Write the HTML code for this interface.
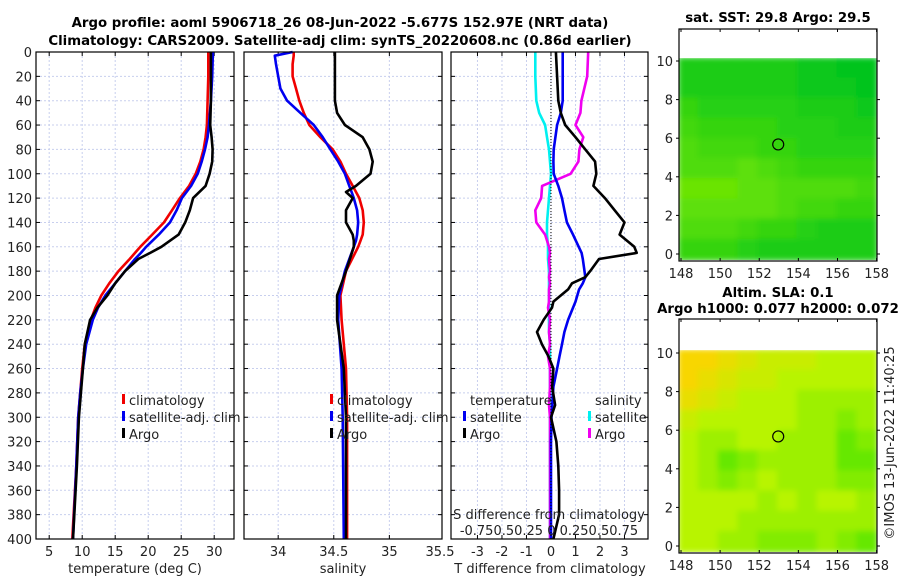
<!DOCTYPE html>
<html><head><meta charset="utf-8">
<style>
html,body{margin:0;padding:0;background:#fff;}
svg{display:block;font-family:"DejaVu Sans","Liberation Sans",sans-serif;}
.t{font-size:13px;fill:#222;}
.b{font-size:13.3px;font-weight:bold;fill:#000;}
</style></head>
<body>
<svg id="fig" width="900" height="580" viewBox="0 0 900 580">
<text class="b" x="340" y="27" text-anchor="middle">Argo profile: aoml 5906718_26 08-Jun-2022 -5.677S 152.97E (NRT data)</text>
<text class="b" x="340" y="45" text-anchor="middle">Climatology: CARS2009. Satellite-adj clim: synTS_20220608.nc (0.86d earlier)</text>
<text class="b" x="778" y="22" text-anchor="middle">sat. SST: 29.8 Argo: 29.5</text>
<text class="b" x="778" y="297" text-anchor="middle">Altim. SLA: 0.1</text>
<text class="b" x="778" y="313" text-anchor="middle">Argo h1000: 0.077 h2000: 0.072</text>
<text class="t" transform="translate(894,443) rotate(-90)" text-anchor="middle">©IMOS 13-Jun-2022 11:40:25</text>
<g id="plots"></g>
</svg>
<script>
// ---- data ----
const depthTicks=[0,20,40,60,80,100,120,140,160,180,200,220,240,260,280,300,320,340,360,380,400];
const tempTicks=[5,10,15,20,25,30];
const salTicks=[34,34.5,35];
const dTicks=[-3,-2,-1,0,1,2,3];
const tempDepth=[0,20,40,60,70,80,90,100,110,120,130,140,150,160,165,170,180,190,200,210,220,240,260,280,300,340,400];
const tempClim =[29.1,29.1,29.0,28.9,28.7,28.4,27.9,27.2,26.2,24.8,23.6,22.4,20.6,18.8,18.0,17.2,15.5,14.1,12.9,12.0,11.3,10.4,10.0,9.7,9.4,9.1,8.5];
const tempSat  =[29.8,29.7,29.5,29.2,29.0,28.6,28.1,27.5,26.5,25.1,24.3,23.3,21.6,19.7,18.9,18.0,16.5,15.0,13.5,12.4,11.6,10.6,10.1,9.7,9.4,9.1,8.6];
const tempArgo =[29.5,29.5,29.5,29.4,29.6,29.75,29.7,29.3,28.7,26.8,26.3,25.6,24.6,22.0,20.3,18.5,16.5,15.0,13.8,12.3,11.2,10.4,10.1,9.8,9.5,9.2,8.6];
const salDepth=[0,3,10,20,30,40,50,60,70,80,90,100,110,115,120,130,140,150,155,160,180,200,220,260,300,400];
const salClim=[34.14,34.14,34.13,34.13,34.16,34.19,34.23,34.28,34.38,34.49,34.56,34.61,34.67,34.70,34.73,34.76,34.77,34.76,34.74,34.72,34.61,34.56,34.57,34.61,34.62,34.62];
const salSat =[34.13,33.97,33.98,34.00,34.02,34.08,34.20,34.32,34.40,34.47,34.54,34.60,34.64,34.66,34.68,34.71,34.72,34.71,34.70,34.68,34.60,34.55,34.54,34.57,34.58,34.59];
const salArgo=[34.51,34.51,34.51,34.51,34.51,34.51,34.53,34.60,34.76,34.82,34.85,34.83,34.70,34.61,34.67,34.61,34.61,34.67,34.68,34.68,34.61,34.53,34.53,34.59,34.61,34.61];
const difDepth=[0,20,40,50,60,70,80,90,100,110,120,130,140,150,160,165,170,180,185,190,195,205,210,220,230,240,250,260,275,290,300,320,340,360,380,400];
const difTSat =[0.48,0.48,0.48,0.40,0.25,0.18,0.11,0.10,0.11,0.30,0.45,0.55,0.65,0.90,1.13,1.25,1.30,1.37,1.40,1.30,1.15,1.00,0.90,0.70,0.55,0.45,0.35,0.25,0.10,0.05,0.02,0.0,0.0,0.0,0.0,0.0];
const difTArgo=[0.20,0.25,0.30,0.40,0.58,1.00,1.40,1.80,1.85,1.73,2.20,2.60,3.00,2.80,3.40,3.50,1.96,1.60,1.40,0.86,0.70,0.10,0.04,-0.30,-0.57,-0.37,-0.10,0.10,0.05,0.17,0.0,0.22,0.30,0.33,0.33,0.10];
const difSSat =[-0.16,-0.16,-0.15,-0.12,-0.06,-0.04,-0.02,-0.01,0.0,-0.01,-0.02,-0.03,-0.04,-0.04,-0.03,-0.03,-0.03,-0.02,-0.02,-0.02,-0.02,-0.02,-0.02,-0.02,-0.02,-0.01,-0.01,-0.01,-0.01,-0.01,-0.01,-0.01,-0.01,-0.01,-0.01,-0.01];
const difSArgo=[0.38,0.37,0.31,0.30,0.25,0.33,0.29,0.28,0.20,-0.09,-0.10,-0.16,-0.15,-0.06,-0.02,-0.01,-0.02,-0.01,-0.02,-0.01,-0.02,-0.02,-0.03,-0.01,-0.02,-0.01,-0.03,-0.01,-0.01,-0.02,-0.01,-0.01,-0.01,-0.01,-0.01,-0.01];
const lonTicks=[148,150,152,154,156,158];
const latTicks=[0,2,4,6,8,10];
const sstGrid=[
[2,2,2,2,2,2,1,1,0,0],
[2,2,2,2,2,2,1,1,1,0],
[4,3,3,3,3,3,2,2,2,1],
[5,4,4,4,4,3,3,3,2,2],
[6,5,5,5,4,4,3,3,3,3],
[6,6,6,7,6,5,4,4,4,4],
[8,8,8,7,7,6,6,6,6,5],
[7,7,7,7,7,6,5,5,4,4],
[6,6,6,5,4,4,3,2,2,2],
[4,4,4,3,2,2,2,2,2,2]];
const slaGrid=[
[9,9,8,7,6,6,6,5,5,5],
[9,8,7,6,6,5,5,5,5,5],
[8,7,6,5,5,5,4,4,4,4],
[6,5,5,5,5,5,4,4,3,4],
[5,4,4,5,5,4,4,4,2,3],
[5,4,2,3,4,4,4,4,2,2],
[5,4,3,4,5,4,4,4,3,3],
[5,5,5,5,4,5,4,5,5,4],
[5,5,5,4,4,4,4,4,4,4],
[5,5,4,4,3,3,3,4,3,2]];
const argoLon=[152.97], argoLat=[5.677];

// ---- drawing ----
const NS='http://www.w3.org/2000/svg';
const root=document.getElementById('plots');
function mk(tag,attrs,parent){const e=document.createElementNS(NS,tag);for(const k in attrs)e.setAttribute(k,attrs[k]);(parent||root).appendChild(e);return e;}
const top0=52, bot0=539;
const yD=d=>top0+d*(bot0-top0)/400;

function panel(name,x0,x1,vmin,vmax,ticks,tickLabels,series,showY){
  const g=mk('g',{});
  
  
  const xs=v=>x0+(v-vmin)*(x1-x0)/(vmax-vmin);
  depthTicks.forEach(d=>{
    const l=mk('line',{x1:x0,x2:x1,y1:yD(d),y2:yD(d),stroke:'#c8cfee','stroke-width':1,'stroke-dasharray':'2,2'},g);
    
    
    mk('line',{x1:x0,x2:x0+4,y1:yD(d),y2:yD(d),stroke:'#000'},g);
    mk('line',{x1:x1-4,x2:x1,y1:yD(d),y2:yD(d),stroke:'#000'},g);
    if(showY){const t=mk('text',{x:x0-4,y:yD(d)+5,'text-anchor':'end',class:'t'},g);t.textContent=d;
      
      }
  });
  ticks.forEach((v,i)=>{
    const l=mk('line',{x1:xs(v),x2:xs(v),y1:top0,y2:bot0,stroke:'#c8cfee','stroke-width':1,'stroke-dasharray':'2,2'},g);
    
    
    mk('line',{x1:xs(v),x2:xs(v),y1:bot0,y2:bot0-4,stroke:'#000'},g);
    mk('line',{x1:xs(v),x2:xs(v),y1:top0,y2:top0+4,stroke:'#000'},g);
    const t=mk('text',{x:xs(v),y:556,'text-anchor':'middle',class:'t'},g);t.textContent=tickLabels[i];
    
    
  });
  series.forEach(s=>{
    const p=s.vals.map((v,i)=>(i?'L':'M')+xs(v).toFixed(1)+','+yD(s.depth[i]).toFixed(1)).join(' ');
    const pa=mk('path',{d:p,fill:'none',stroke:s.color,'stroke-width':2.6,'stroke-linejoin':'round'},g);
    
    
  });
  const f=mk('rect',{x:x0,y:top0,width:x1-x0,height:bot0-top0,fill:'none',stroke:'#000','stroke-width':1.2},g);
  
  
  return {g,xs};
}
const p1=panel('temperature-panel',36,234,3,33,tempTicks,tempTicks,[
 {name:'temp-climatology-line',depth:tempDepth,vals:tempClim,color:'#f00000'},
 {name:'temp-satellite-line',depth:tempDepth,vals:tempSat,color:'#0000f0'},
 {name:'temp-argo-line',depth:tempDepth,vals:tempArgo,color:'#000'}],true);
const p2=panel('salinity-panel',244,442,33.6926,35.4734,salTicks,salTicks,[
 {name:'sal-climatology-line',depth:salDepth,vals:salClim,color:'#f00000'},
 {name:'sal-satellite-line',depth:salDepth,vals:salSat,color:'#0000f0'},
 {name:'sal-argo-line',depth:salDepth,vals:salArgo,color:'#000'}],false);
const p3=panel('difference-panel',451,648,-4.08,3.96,dTicks,dTicks,[
 {name:'sdiff-satellite-line',depth:difDepth,vals:difSSat.map(v=>v*4),color:'#00f0f0'},
 {name:'sdiff-argo-line',depth:difDepth,vals:difSArgo.map(v=>v*4),color:'#f000f0'},
 {name:'tdiff-satellite-line',depth:difDepth,vals:difTSat,color:'#0000f0'},
 {name:'tdiff-argo-line',depth:difDepth,vals:difTArgo,color:'#000'}],false);
const zl=mk('line',{x1:p3.xs(0),x2:p3.xs(0),y1:top0,y2:bot0,stroke:'#000','stroke-width':1,'stroke-dasharray':'1,2'});


function txt(x,y,s,name,anchor,cls){const t=mk('text',{x:x,y:y,'text-anchor':anchor||'start',class:cls||'t'});t.textContent=s;
  
  return t;}
txt(440,556,'35.5','x-tick-label-35.5','middle');
txt(135,573,'temperature (deg C)','x-axis-title-temperature','middle');
txt(343,573,'salinity','x-axis-title-salinity','middle');
txt(550,573,'T difference from climatology','x-axis-title-tdiff','middle');
txt(549,519,'S difference from climatology','s-diff-axis-title','middle');
txt(549,535,'-0.750.50.25 0 0.250.50.75','s-diff-tick-labels','middle');
function leg(x,y,color,label,name){
  const r=mk('rect',{x:x,y:y-11,width:3,height:10,fill:color});
  
  
  txt(x+7,y,label,name);
}
leg(122,405,'#f00000','climatology','legend-climatology');
leg(122,422,'#0000f0','satellite-adj. clim','legend-satellite-adj');
leg(122,439,'#000','Argo','legend-argo');
leg(330,405,'#f00000','climatology','legend2-climatology');
leg(330,422,'#0000f0','satellite-adj. clim','legend2-satellite-adj');
leg(330,439,'#000','Argo','legend2-argo');
txt(470,405,'temperature','legend-temperature-heading');
txt(595,405,'salinity','legend-salinity-heading');
leg(463,422,'#0000f0','satellite','legend-t-satellite');
leg(463,439,'#000','Argo','legend-t-argo');
leg(588,422,'#00f0f0','satellite','legend-s-satellite');
leg(588,439,'#f000f0','Argo','legend-s-argo');

function lerp(a,b,t){return a.map((v,i)=>Math.round(v+(b[i]-v)*t));}
function sstColor(v){return 'rgb('+lerp([0,196,30],[120,232,0],v/9).join(',')+')';}
function slaColor(v){return 'rgb('+(v<=5?lerp([48,224,0],[184,244,0],v/5):lerp([184,244,0],[248,214,0],(v-5)/4)).join(',')+')';}
function map(name,x0,x1,boxTop,bot,grid,colorFn){
  const g=mk('g',{});
  
  
  const lonS=v=>x0+2+(v-148)*(x1-x0-2)/10.02;
  const y0=bot-7, y10=y0-193;
  const latS=v=>y0+(v)*(y10-y0)/10;
  const dataTop=latS(10.15), dataBot=bot-1;
  const id=name+'clip';
  const cp=mk('clipPath',{id:id},g);mk('rect',{x:x0,y:dataTop,width:x1-x0,height:dataBot-dataTop},cp);
  const cg=mk('g',{'clip-path':'url(#'+id+')'},g);
  const inner=mk('g',{filter:'url(#blur)'},cg);
  const nr=grid.length,nc=grid[0].length;
  const cw=(x1-x0)/nc, ch=(dataBot-dataTop)/nr;
  grid.forEach((row,r)=>row.forEach((v,c)=>{
    const cell=mk('rect',{x:(x0+c*cw-1).toFixed(1),y:(dataTop+r*ch-1).toFixed(1),width:(cw+2).toFixed(1),height:(ch+2).toFixed(1),fill:colorFn(v)},inner);
    
    
  }));
  const ci=mk('circle',{cx:lonS(argoLon[0]),cy:latS(argoLat[0]),r:5.5,fill:'none',stroke:'#000','stroke-width':1.2},g);
  
  
  lonTicks.forEach(v=>{
    mk('line',{x1:lonS(v),x2:lonS(v),y1:bot,y2:bot-3,stroke:'#000'},g);
    mk('line',{x1:lonS(v),x2:lonS(v),y1:boxTop,y2:boxTop+3,stroke:'#000'},g);
    const t=mk('text',{x:lonS(v),y:bot+17,'text-anchor':'middle',class:'t'},g);t.textContent=v;
    
    
  });
  latTicks.forEach(v=>{
    mk('line',{x1:x0,x2:x0-3,y1:latS(v),y2:latS(v),stroke:'#000'},g);
    mk('line',{x1:x1,x2:x1+3,y1:latS(v),y2:latS(v),stroke:'#000'},g);
    const t=mk('text',{x:x0-6,y:latS(v)+5,'text-anchor':'end',class:'t'},g);t.textContent=v;
    
    
  });
  const f=mk('rect',{x:x0,y:boxTop,width:x1-x0,height:bot-boxTop,fill:'none',stroke:'#000','stroke-width':1.2},g);
  
  
}
const defs=mk('defs',{});
const flt=mk('filter',{id:'blur',x:'-5%',y:'-5%',width:'110%',height:'110%'},defs);
mk('feGaussianBlur',{stdDeviation:3},flt);
map('sst-map',679,877,29,261,sstGrid,sstColor);
map('sla-map',679,877,319,553,slaGrid,slaColor);
</script>
</body></html>
